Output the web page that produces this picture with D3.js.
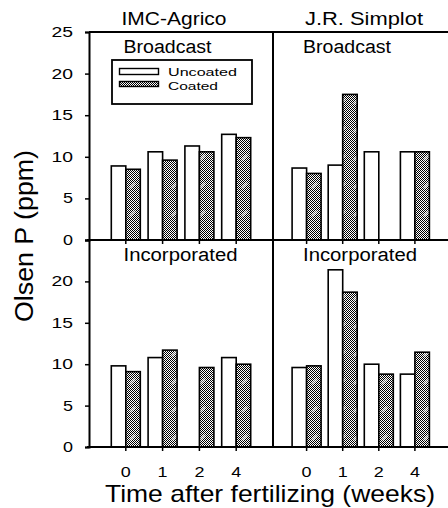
<!DOCTYPE html>
<html>
<head>
<meta charset="utf-8">
<script src="https://cdn.jsdelivr.net/npm/d3@7"></script>
<style>
html,body{margin:0;padding:0;background:#fff;}
svg{display:block;}
text{font-family:Arial,"Liberation Sans",sans-serif;fill:#000;}
</style>
</head>
<body>
<svg id="chart" width="448" height="508"></svg>
<script>
// ---- data ----
const weeks = ["0", "1", "2", "4"];
const companies = ["IMC-Agrico", "J.R. Simplot"];
const methods = ["Broadcast", "Incorporated"];
const seriesNames = ["Uncoated", "Coated"];
const yTicksTop = [0, 5, 10, 15, 20, 25];
const yTicksBottom = [0, 5, 10, 15, 20];

const imcBroadcastUncoated = [8.9, 10.6, 11.3, 12.7];
const imcBroadcastCoated   = [8.5, 9.6, 10.6, 12.3];
const jrsBroadcastUncoated = [8.65, 9.0, 10.6, 10.6];
const jrsBroadcastCoated   = [8.0, 17.5, null, 10.6];
const imcIncorpUncoated    = [9.8, 10.8, null, 10.8];
const imcIncorpCoated      = [9.1, 11.7, 9.6, 10.0];
const jrsIncorpUncoated    = [9.6, 21.4, 10.0, 8.8];
const jrsIncorpCoated      = [9.8, 18.7, 8.8, 11.45];

const panels = [
  {company: 0, method: 0, uncoated: imcBroadcastUncoated, coated: imcBroadcastCoated},
  {company: 1, method: 0, uncoated: jrsBroadcastUncoated, coated: jrsBroadcastCoated},
  {company: 0, method: 1, uncoated: imcIncorpUncoated, coated: imcIncorpCoated},
  {company: 1, method: 1, uncoated: jrsIncorpUncoated, coated: jrsIncorpCoated}
];

// ---- layout ----
const svg = d3.select("#chart");
const W = 448;
const axisX = 89, divX = 273, topY = 32, midY = 240, botY = 447;

const defs = svg.append("defs");
const chk = defs.append("pattern").attr("id", "checker")
  .attr("patternUnits", "userSpaceOnUse").attr("width", 2).attr("height", 2);
chk.append("rect").attr("width", 2).attr("height", 2).attr("fill", "#fff");
chk.append("rect").attr("width", 1).attr("height", 1).attr("fill", "#000");
chk.append("rect").attr("x", 1).attr("y", 1).attr("width", 1).attr("height", 1).attr("fill", "#000");
const hatch = defs.append("pattern").attr("id", "coated")
  .attr("patternUnits", "userSpaceOnUse").attr("width", 14).attr("height", 28);
hatch.append("rect").attr("width", 14).attr("height", 28).attr("fill", "url(#checker)");
hatch.append("line").attr("x1", 4).attr("y1", 20).attr("x2", 9).attr("y2", 15)
  .attr("stroke", "#fff").attr("stroke-width", 1.3);

const xScales = [
  d3.scalePoint().domain(weeks).range([axisX, divX]).padding(1),
  d3.scalePoint().domain(weeks).range([270.5, 451]).padding(1)
];
const yScales = [
  d3.scaleLinear().domain([0, 25]).range([midY, topY]),
  d3.scaleLinear().domain([0, 25]).range([botY, midY])
];
const bw = 14.5;

// bars
panels.forEach(p => {
  const x = xScales[p.company], y = yScales[p.method];
  const g = svg.append("g");
  const rows = weeks.map((w, i) => ({w, u: p.uncoated[i], c: p.coated[i]}));
  g.selectAll("rect.u").data(rows.filter(d => d.u != null)).join("rect")
    .attr("x", d => x(d.w) - bw).attr("y", d => y(d.u))
    .attr("width", bw).attr("height", d => y(0) - y(d.u))
    .attr("fill", "#fff").attr("stroke", "#000").attr("stroke-width", 1.6);
  g.selectAll("rect.c").data(rows.filter(d => d.c != null)).join("rect")
    .attr("x", d => x(d.w)).attr("y", d => y(d.c))
    .attr("width", bw).attr("height", d => y(0) - y(d.c))
    .attr("fill", "url(#coated)").attr("stroke", "#000").attr("stroke-width", 1.6);
  // x ticks
  g.selectAll("line.t").data(weeks).join("line")
    .attr("x1", d => x(d)).attr("x2", d => x(d))
    .attr("y1", y(0)).attr("y2", y(0) + 4)
    .attr("stroke", "#000").attr("stroke-width", 1.5);
  // panel label
  g.append("text").attr("x", x.range()[0] + (p.company === 0 ? 34.5 : 32.5))
    .attr("y", y(25) + 21).attr("font-size", 18)
    .attr("textLength", p.method === 0 ? 88 : 114).attr("lengthAdjust", "spacingAndGlyphs")
    .text(methods[p.method]);
});

// frame lines
const frame = svg.append("g").attr("stroke", "#000").attr("stroke-width", 2);
frame.append("line").attr("x1", axisX).attr("x2", W).attr("y1", topY).attr("y2", topY);
frame.append("line").attr("x1", axisX - 2).attr("x2", W).attr("y1", midY).attr("y2", midY);
frame.append("line").attr("x1", axisX - 2).attr("x2", W).attr("y1", botY).attr("y2", botY);
frame.append("line").attr("x1", divX).attr("x2", divX).attr("y1", topY).attr("y2", botY);

// y axes
function drawY(scale, ticks) {
  const g = svg.append("g").attr("transform", `translate(${axisX},0)`)
    .call(d3.axisLeft(scale).tickValues(ticks).tickSize(4).tickPadding(12));
  g.select(".domain").attr("stroke-width", 2);
  g.selectAll(".tick line").attr("stroke-width", 1.5);
  g.selectAll(".tick text").attr("font-size", 14).attr("fill", "#000")
    .attr("font-family", "Arial, 'Liberation Sans', sans-serif")
    .attr("textLength", d => String(d).length * 11.5 - 1.5)
    .attr("lengthAdjust", "spacingAndGlyphs");
}
drawY(yScales[0], yTicksTop);
drawY(yScales[1], yTicksBottom);

// x tick labels
xScales.forEach(x => {
  svg.append("g").selectAll("text").data(weeks).join("text")
    .attr("x", d => x(d)).attr("y", 476.5).attr("text-anchor", "middle")
    .attr("font-size", 14).attr("textLength", 10).attr("lengthAdjust", "spacingAndGlyphs")
    .text(d => d);
});

// company titles
svg.append("text").attr("x", 121.5).attr("y", 25).attr("font-size", 18)
  .attr("textLength", 105).attr("lengthAdjust", "spacingAndGlyphs").text(companies[0]);
svg.append("text").attr("x", 305).attr("y", 25).attr("font-size", 18)
  .attr("textLength", 118).attr("lengthAdjust", "spacingAndGlyphs").text(companies[1]);

// axis titles
svg.append("text").attr("transform", "translate(33,236) rotate(-90)")
  .attr("text-anchor", "middle").attr("font-size", 25)
  .attr("textLength", 172).attr("lengthAdjust", "spacingAndGlyphs").text("Olsen P (ppm)");
svg.append("text").attr("x", 270).attr("y", 502).attr("text-anchor", "middle")
  .attr("font-size", 24).attr("textLength", 330).attr("lengthAdjust", "spacingAndGlyphs")
  .text("Time after fertilizing (weeks)");

// legend
const lg = svg.append("g");
lg.append("rect").attr("x", 112).attr("y", 60).attr("width", 140).attr("height", 44)
  .attr("fill", "#fff").attr("stroke", "#000").attr("stroke-width", 1.8);
const legY = [68.5, 81.5];
seriesNames.forEach((s, i) => {
  lg.append("rect").attr("x", 119.5).attr("y", legY[i]).attr("width", 39).attr("height", i === 0 ? 6 : 5)
    .attr("fill", i === 0 ? "#fff" : "url(#coated)").attr("stroke", "#000").attr("stroke-width", 1.4);
  lg.append("text").attr("x", 168).attr("y", i === 0 ? 75.5 : 90).attr("font-size", 11.5)
    .attr("textLength", i === 0 ? 69 : 50).attr("lengthAdjust", "spacingAndGlyphs").text(s);
});
</script>
</body>
</html>
